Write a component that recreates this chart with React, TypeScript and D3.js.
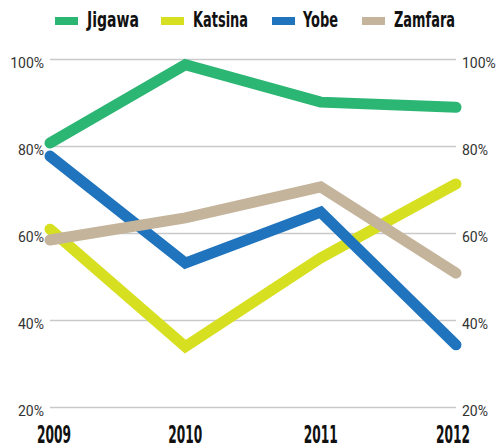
import * as d3 from "d3";
import React from "react";

const years = ["2009", "2010", "2011", "2012"];
const yTicks = [20, 40, 60, 80, 100];

const seriesNames = ["Jigawa", "Katsina", "Yobe", "Zamfara"];
const seriesColors = ["#2cb673", "#d7df21", "#1f74bd", "#c4b49b"];

const jigawa = [80.8, 98.8, 90.2, 89.0];
const katsina = [61.0, 34.0, 54.4, 71.4];
const yobe = [77.8, 53.2, 64.9, 34.4];
const zamfara = [58.5, 63.6, 70.7, 50.9];

const seriesValues = [jigawa, katsina, yobe, zamfara];

// legend layout (swatch x, text x)
const legendItems = [
  { swatch: 55, text: 87, width: 52 },
  { swatch: 161, text: 193, width: 55 },
  { swatch: 272, text: 303, width: 35 },
  { swatch: 362, text: 394, width: 61 },
];

export default function App() {
  const ref = React.useRef<SVGSVGElement>(null);

  React.useEffect(() => {
    if (!ref.current) return;
    const svg = d3.select(ref.current);
    svg.selectAll("*").remove();

    const x = d3.scalePoint().domain(years).range([50, 456]);
    const y = d3.scaleLinear().domain([20, 100]).range([407.5, 59.5]);

    // グリッド線
    svg
      .append("g")
      .selectAll("line")
      .data(yTicks)
      .enter()
      .append("line")
      .attr("x1", 50)
      .attr("x2", 456)
      .attr("y1", (d) => y(d))
      .attr("y2", (d) => y(d))
      .attr("stroke", "#c9c9c9")
      .attr("stroke-width", 1.5);

    // 左右のラベル
    const tickStyle = (sel: any) =>
      sel
        .attr("y", (d: number) => y(d) + 8)
        .attr("font-family", "Roboto, sans-serif")
        .attr("font-size", 14)
        .attr("fill", "#333")
        .text((d: number) => `${d}%`);

    svg
      .append("g")
      .selectAll("text")
      .data(yTicks)
      .enter()
      .append("text")
      .attr("x", 44)
      .attr("text-anchor", "end")
      .call(tickStyle);

    svg
      .append("g")
      .selectAll("text")
      .data(yTicks)
      .enter()
      .append("text")
      .attr("x", 462)
      .attr("text-anchor", "start")
      .call(tickStyle);

    // 年ラベル
    svg
      .append("g")
      .selectAll("text")
      .data(years)
      .enter()
      .append("text")
      .attr("x", (d) => (x(d) || 0) + (d === "2009" ? 4 : d === "2012" ? -3 : 0))
      .attr("y", 443)
      .attr("text-anchor", "middle")
      .attr("font-family", "'Liberation Sans Narrow', 'DejaVu Sans Condensed', sans-serif")
      .attr("font-weight", "bold")
      .attr("font-size", 25)
      .attr("textLength", 34)
      .attr("lengthAdjust", "spacingAndGlyphs")
      .attr("fill", "#111")
      .text((d) => d);

    // 線
    const line = d3
      .line<number>()
      .x((_, i) => x(years[i]) || 0)
      .y((d) => y(d));

    svg
      .append("g")
      .selectAll("path")
      .data(seriesValues)
      .enter()
      .append("path")
      .attr("d", (d) => line(d))
      .attr("fill", "none")
      .attr("stroke", (_, i) => seriesColors[i])
      .attr("stroke-width", 11)
      .attr("stroke-linecap", "round")
      .attr("stroke-linejoin", "miter");

    // 凡例
    const legend = svg
      .append("g")
      .selectAll("g")
      .data(seriesNames)
      .enter()
      .append("g");

    legend
      .append("rect")
      .attr("x", (_, i) => legendItems[i].swatch)
      .attr("y", 17)
      .attr("width", 23)
      .attr("height", 8)
      .attr("fill", (_, i) => seriesColors[i]);

    legend
      .append("text")
      .attr("x", (_, i) => legendItems[i].text)
      .attr("y", 27)
      .attr("font-family", "'Liberation Sans Narrow', 'DejaVu Sans Condensed', sans-serif")
      .attr("font-weight", "bold")
      .attr("font-size", 21)
      .attr("textLength", (_, i) => legendItems[i].width)
      .attr("lengthAdjust", "spacingAndGlyphs")
      .attr("fill", "#111")
      .text((d) => d);

    return () => {
      svg.selectAll("*").remove();
    };
  }, []);

  return (
    <svg
      ref={ref}
      width={498}
      height={447}
      style={{ position: "absolute", left: 0, top: 0, background: "#fff" }}
    />
  );
}
